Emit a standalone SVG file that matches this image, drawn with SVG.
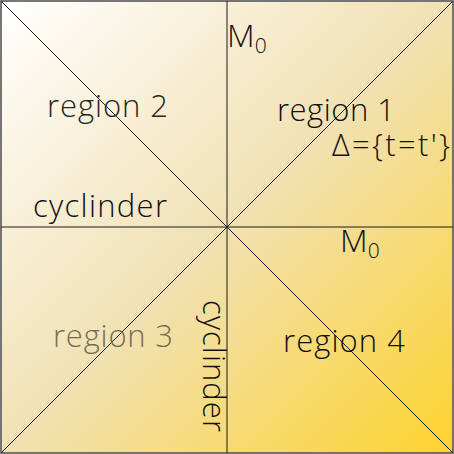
<svg xmlns="http://www.w3.org/2000/svg" width="454" height="454" viewBox="0 0 454 454">
<defs>
<linearGradient id="bg" x1="0" y1="0" x2="1" y2="1">
<stop offset="0" stop-color="#ffffff"/>
<stop offset="0.5" stop-color="#f1e1b3"/>
<stop offset="1" stop-color="#fdd32e"/>
</linearGradient>
</defs>
<style>
text{font-family:"Open Sans","Noto Sans",sans-serif;font-size:31px;font-weight:300;fill:#111}
.ln{stroke:#1a1a1a;stroke-width:1;fill:none}
</style>
<rect x="1" y="1" width="452" height="452" fill="url(#bg)" stroke="#555" stroke-width="1.6"/>
<g id="lines">
<line class="ln" x1="1" y1="1" x2="453" y2="453"/>
<line class="ln" x1="453" y1="1" x2="1" y2="453"/>
<line class="ln" x1="227" y1="1" x2="227" y2="453"/>
<line class="ln" x1="1" y1="227" x2="453" y2="227"/>
</g>
<g id="region1"><text x="277" y="121" textLength="118">region 1</text></g>
<g id="region2"><text x="47" y="117" textLength="121" style="fill:#2a2620">region 2</text></g>
<g id="region3"><text x="53" y="347" textLength="120" style="fill:#7a6d50">region 3</text></g>
<g id="region4"><text x="283" y="352" textLength="122">region 4</text></g>
<g id="delta"><text x="332" y="156" textLength="118">Δ={t=t'}</text></g>
<g id="cyl1"><text x="33" y="217" textLength="134">cyclinder</text></g>
<g id="cyl2"><text transform="translate(203,300) rotate(90)" x="0" y="0" textLength="132">cyclinder</text></g>
<g id="m0a"><text x="227" y="47" style="font-size:32px">M<tspan dy="6" style="font-size:21px">0</tspan></text></g>
<g id="m0b"><text x="340" y="252" style="font-size:32px">M<tspan dy="6" style="font-size:21px">0</tspan></text></g>
</svg>
